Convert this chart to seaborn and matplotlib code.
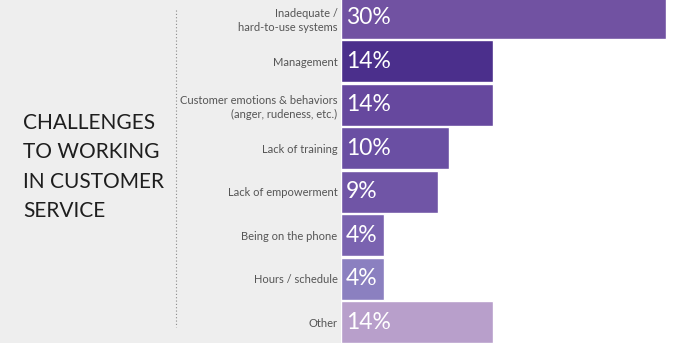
import matplotlib
matplotlib.use("Agg")
import matplotlib.pyplot as plt
from matplotlib.patches import Rectangle
from matplotlib.lines import Line2D
import pandas as pd
import seaborn as sns

# data
categories = [
    "Inadequate /\nhard-to-use systems",
    "Management",
    "Customer emotions & behaviors\n(anger, rudeness, etc.)",
    "Lack of training",
    "Lack of empowerment",
    "Being on the phone",
    "Hours / schedule",
    "Other",
]
shares = [30, 14, 14, 10, 9, 4, 4, 14]
bar_colors = ["#7152a2", "#4b2f8c", "#66489e", "#6a4fa3",
              "#7055a6", "#7a63b0", "#8b80c0", "#b89fcb"]
title = "CHALLENGES\nTO WORKING\nIN CUSTOMER\nSERVICE"

sns.set_style("white")
plt.rcParams["font.family"] = ["Lato", "DejaVu Sans"]

df = pd.DataFrame({"category": categories, "share": shares})

fig = plt.figure(figsize=(7, 3.5), dpi=100)
fig.patch.set_facecolor("white")

# grey left panel
fig.add_artist(Rectangle((0, 7 / 350), 341 / 700, 343 / 350,
                         transform=fig.transFigure, facecolor="#eeeeee",
                         edgecolor="none", zorder=0))
# dotted divider
fig.add_artist(Line2D([175.5 / 700, 175.5 / 700], [1 - 10 / 350, 1 - 327 / 350],
                      transform=fig.transFigure, color="#8a8a8a",
                      linestyle=(0, (1, 2)), linewidth=0.8))

fig.text(23 / 700, 1 - 167 / 350, title, ha="left", va="center",
         fontsize=15, color="#1e1e1e", linespacing=1.6)

ax = fig.add_axes([341 / 700, 6 / 350, 359 / 700, 348 / 350])
ax.patch.set_alpha(0)
sns.barplot(data=df, x="share", y="category", hue="category",
            palette=bar_colors, legend=False, orient="h",
            width=0.97, saturation=1, ax=ax)

ax.set_xlim(0, 359 / 10.83)
ax.set_ylim(len(categories) - 0.5, -0.5)
ax.set_xlabel("")
ax.set_ylabel("")
ax.set_xticks([])
for s in ax.spines.values():
    s.set_visible(False)
ax.tick_params(axis="y", length=0, pad=2.5)
for lbl in ax.get_yticklabels():
    lbl.set_fontsize(8)
    lbl.set_color("#555555")
    lbl.set_linespacing(1.35)

for i, v in enumerate(shares):
    ax.annotate(f"{v}%", xy=(0, i), xytext=(3.5, 0), textcoords="offset points",
                ha="left", va="center", fontsize=16.5, color="white")

fig.savefig("out.png", dpi=100)
